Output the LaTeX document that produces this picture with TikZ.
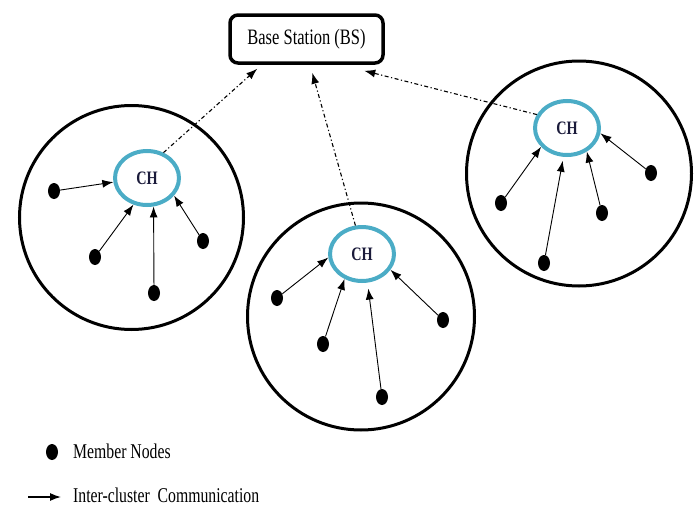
\documentclass[tikz,border=0pt]{standalone}
\usepackage{fontspec}
\setmainfont{Liberation Serif}[FakeStretch=0.75]
\usepackage{xcolor}
\definecolor{chBlue}{HTML}{4BACC6}
\definecolor{chText}{HTML}{1A1A3A}
\usepackage{tikz}
\usetikzlibrary{shapes.geometric,arrows.meta,calc}
\tikzset{station/.style={rectangle, rounded corners=8pt, draw, line width=3.5pt, minimum width=153pt, minimum height=48pt, inner sep=0pt, font=\fontsize{22}{22}\selectfont}}
\tikzset{cluster/.style={circle, draw, line width=3pt, inner sep=0pt}}
\tikzset{head/.style={ellipse, draw=chBlue, line width=4pt, minimum width=64pt, minimum height=54pt, inner sep=0pt, text=chText, font=\fontsize{19}{19}\selectfont\bfseries}}
\tikzset{member/.style={ellipse, fill=black, minimum width=12pt, minimum height=16pt, inner sep=0pt}}
\tikzset{link/.style={-{Latex[length=11pt,width=8pt]}, line width=0.9pt}}
\tikzset{uplink/.style={-{Latex[length=11pt,width=8pt]}, line width=1.1pt, dash pattern=on 4pt off 2.5pt on 1.2pt off 2.5pt}}
\tikzset{legend/.style={anchor=west, inner sep=0pt, font=\fontsize{21}{21}\selectfont}}

\begin{document}
\begin{tikzpicture}[x=1pt, y=-1pt]
\useasboundingbox (0,0) rectangle (699,506);
%--------------------
% base station
%--------------------
\node[station](bs) at (306.5,39){Base Station (BS)};

%--------------------
% cluster 1
%--------------------
\node[cluster, minimum size=224pt](c1) at (131.5,217.5){};
\node[head](ch1) at (147,178){CH};
\node[member](m11) at (54,191){};
\node[member](m12) at (95,257){};
\node[member](m13) at (154,293){};
\node[member](m14) at (203,241){};
\draw[link] (m11) -- (ch1.187);
\draw[link] (m12) -- (ch1.243);
\draw[link] (m13) -- (ch1.283);
\draw[link] (m14) -- (ch1.327);

%--------------------
% cluster 2
%--------------------
\node[cluster, minimum size=227pt](c2) at (361,316.5){};
\node[head](ch2) at (362,254){CH};
\node[member](m21) at (277,298){};
\node[member](m22) at (323,344){};
\node[member](m23) at (382,397){};
\node[member](m24) at (443,320){};
\draw[link] (m21) -- (ch2.186);
\draw[link] (m22) -- (ch2.235);
\draw[link, shorten >=6pt] (m23) -- (ch2.281);
\draw[link] (m24) -- (ch2.331);

%--------------------
% cluster 3
%--------------------
\node[cluster, minimum size=225pt](c3) at (579,173.5){};
\node[head](ch3) at (567,128){CH};
\node[member](m31) at (501,203){};
\node[member](m32) at (544,263){};
\node[member](m33) at (602,213){};
\node[member](m34) at (651,173){};
\draw[link] (m31) -- (ch3.216);
\draw[link, shorten >=4pt] (m32) -- (ch3.263);
\draw[link] (m33) -- (ch3.310);
\draw[link] (m34) -- (ch3.351);

%--------------------
% heads to base station
%--------------------
\draw[uplink] (ch1.57) -- ($(bs.south west)+(29,4)$);
\draw[uplink] (ch2.103) -- ($(bs.south west)+(84,8)$);
\draw[uplink] (ch3.156) -- ($(bs.south west)+(136,6)$);

%--------------------
% legend
%--------------------
\node[member](legdot) at (52,452){};
\node[legend](legm) at (73,451){Member Nodes};
\coordinate(legs) at (28,497);
\coordinate(lege) at (61,497);
\draw[link, line width=1.3pt] (legs) -- (lege);
\node[legend](legc) at (73,495){Inter-cluster\ \ Communication};
\end{tikzpicture}
\end{document}
